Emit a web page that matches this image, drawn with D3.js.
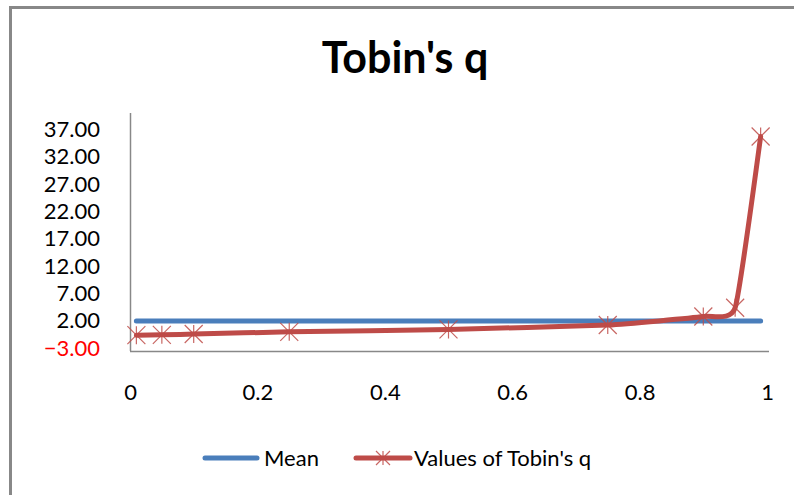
<!DOCTYPE html>
<html>
<head>
<meta charset="utf-8">
<script src="https://cdn.jsdelivr.net/npm/d3@7"></script>
<style>
  html, body { margin: 0; padding: 0; background: #fff; }
  svg { display: block; font-family: Lato, "Open Sans", sans-serif; }
</style>
</head>
<body>
<svg id="chart" width="794" height="495"></svg>
<script>
// Percentile positions and the Tobin's q value at each one
const percentiles = [0.01, 0.05, 0.10, 0.25, 0.50, 0.75, 0.90, 0.95, 0.99];
const tobinsQ     = [-0.6, -0.55, -0.4, 0.0, 0.45, 1.25, 2.8, 4.4, 35.7];
const meanValue   = [2.0, 2.0, 2.0, 2.0, 2.0, 2.0, 2.0, 2.0, 2.0];
const yTicks = [-3, 2, 7, 12, 17, 22, 27, 32, 37];
const xTicks = [0, 0.2, 0.4, 0.6, 0.8, 1];
const seriesNames = ["Mean", "Values of Tobin's q"];

const svg = d3.select("#chart");
const blue = "#4a7ebb", red = "#be4b48";

// Outer frame (left and top edges)
svg.append("path")
  .attr("d", "M10.5,495 V7.5 H794")
  .attr("fill", "none").attr("stroke", "#888").attr("stroke-width", 3);

const x = d3.scaleLinear().domain([0, 1]).range([130, 767]);
const y = d3.scaleLinear().domain([-3.5, 40]).range([351, 113]);

// Title
svg.append("text")
  .attr("x", 405).attr("y", 73)
  .attr("text-anchor", "middle")
  .attr("font-size", 43).attr("font-weight", "bold")
  .text("Tobin's q");

// Y axis
const yAxis = svg.append("g").attr("transform", `translate(${x(0)},0)`)
  .call(d3.axisLeft(y).tickValues(yTicks).tickSize(0).tickPadding(30)
    .tickFormat(d3.format(".2f")));
yAxis.select(".domain").attr("stroke", "#888").attr("stroke-width", 1.5)
  .attr("d", `M0.5,${y.range()[1]}V${y.range()[0]}`);
yAxis.selectAll(".tick text")
  .attr("font-size", 22).attr("font-family", "Lato, sans-serif")
  .attr("fill", d => d < 0 ? "#ff0000" : "#000");

// X axis
const xAxis = svg.append("g").attr("transform", `translate(0,${y.range()[0]})`)
  .call(d3.axisBottom(x).tickValues(xTicks).tickSize(0).tickPadding(33)
    .tickFormat(d => d3.format("")(d)));
xAxis.select(".domain").attr("stroke", "#888").attr("stroke-width", 1.5)
  .attr("d", `M${x(0)},0.5H${x(1) + 2}`);
xAxis.selectAll(".tick text")
  .attr("font-size", 22).attr("font-family", "Lato, sans-serif").attr("fill", "#000");

// Mean line
const meanLine = d3.line().x((d, i) => x(percentiles[i])).y(d => y(d));
svg.append("path").datum(meanValue)
  .attr("d", meanLine)
  .attr("fill", "none").attr("stroke", blue).attr("stroke-width", 5)
  .attr("stroke-linecap", "round");

// Smoothed Tobin's q line
const qLine = d3.line().x((d, i) => x(percentiles[i])).y(d => y(d))
  .curve(d3.curveCardinal.tension(0.55));
svg.append("path").datum(tobinsQ)
  .attr("d", qLine)
  .attr("fill", "none").attr("stroke", red).attr("stroke-width", 5)
  .attr("stroke-linejoin", "round").attr("stroke-linecap", "round");

// Star markers
function star(g, cx, cy, r) {
  g.append("path")
    .attr("d", `M${cx - r},${cy - r}L${cx + r},${cy + r}M${cx - r},${cy + r}L${cx + r},${cy - r}M${cx},${cy - r}L${cx},${cy + r}`)
    .attr("stroke", red).attr("stroke-width", 1.2).attr("fill", "none")
    .attr("opacity", 0.85);
}
const markers = svg.append("g");
tobinsQ.forEach((v, i) => star(markers, x(percentiles[i]), y(v), 9));

// Legend
const lg = svg.append("g");
lg.append("line").attr("x1", 205).attr("x2", 257).attr("y1", 458).attr("y2", 458)
  .attr("stroke", blue).attr("stroke-width", 5).attr("stroke-linecap", "round");
lg.append("text").attr("x", 264).attr("y", 466).attr("font-size", 22).text(seriesNames[0]);
lg.append("line").attr("x1", 356).attr("x2", 410).attr("y1", 458).attr("y2", 458)
  .attr("stroke", red).attr("stroke-width", 5).attr("stroke-linecap", "round");
star(lg, 383, 458, 7);
lg.append("text").attr("x", 414).attr("y", 466).attr("font-size", 22).text(seriesNames[1]);
</script>
</body>
</html>
